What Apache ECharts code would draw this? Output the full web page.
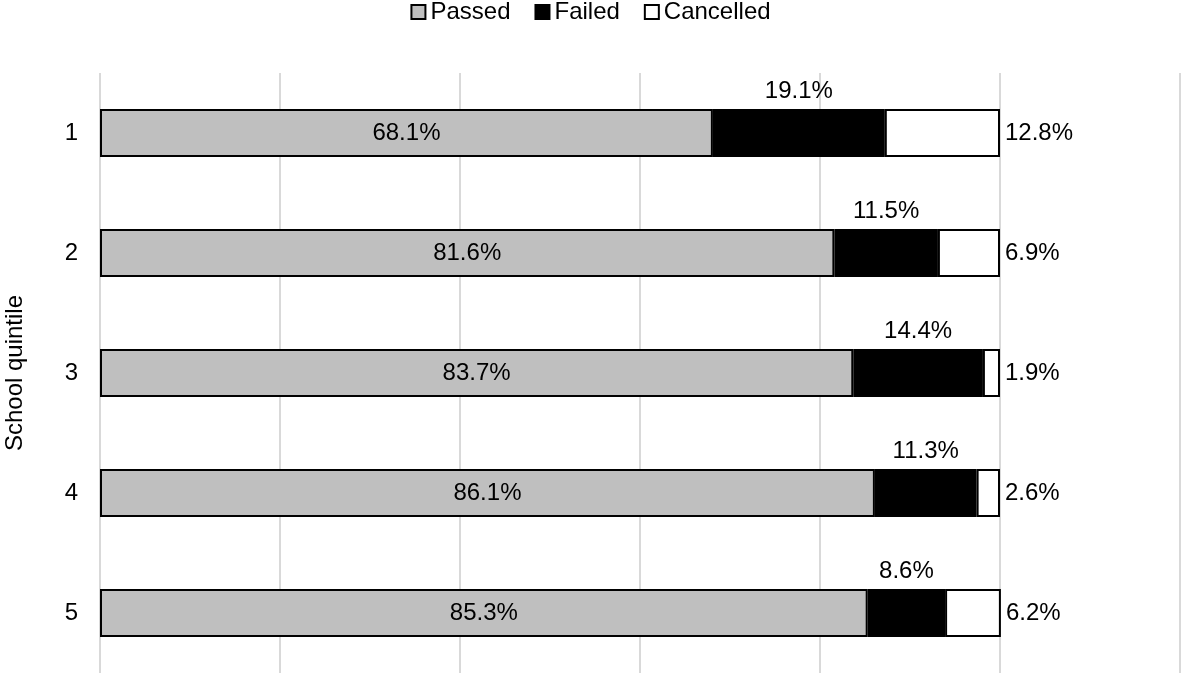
<!DOCTYPE html>
<html><head><meta charset="utf-8">
<script src="https://cdn.jsdelivr.net/npm/echarts@6/dist/echarts.min.js"></script>
<style>html,body{margin:0;padding:0;background:#fff}#c{width:1181px;height:673px}</style>
</head><body><div id="c"></div>
<script>
const categories = ['1', '2', '3', '4', '5'];
const passed = [68.1, 81.6, 83.7, 86.1, 85.3];
const failed = [19.1, 11.5, 14.4, 11.3, 8.6];
const cancelled = [12.8, 6.9, 1.9, 2.6, 6.2];
const xTicks = [0, 20, 40, 60, 80, 100, 120];

const font = 'Liberation Sans, Arial, sans-serif';
const fmt = p => p.value.toFixed(1) + '%';
const chart = echarts.init(document.getElementById('c'));
chart.setOption({
  animation: false,
  textStyle: { fontFamily: font },
  legend: {
    top: -5, left: 'center', icon: 'rect',
    itemWidth: 14, itemHeight: 14, itemGap: 24,
    textStyle: { fontSize: 24, color: '#000', fontFamily: font, padding: [0, 0, 0, 0] },
    data: ['Passed', 'Failed', 'Cancelled']
  },
  grid: { left: 100, right: 1, top: 73, bottom: 0, containLabel: false, outerBoundsMode: 'none' },
  xAxis: {
    type: 'value', min: xTicks[0], max: xTicks[xTicks.length - 1], interval: 20,
    axisLabel: { show: false }, axisLine: { show: false }, axisTick: { show: false },
    splitLine: { show: true, lineStyle: { color: '#d9d9d9', width: 2 } }
  },
  yAxis: {
    type: 'category', data: categories, inverse: true,
    axisLine: { show: false }, axisTick: { show: false },
    axisLabel: { fontSize: 24, color: '#000', margin: 22, fontFamily: font },
    name: 'School quintile', nameLocation: 'middle', nameGap: 73,
    nameTextStyle: { fontSize: 24, color: '#000', fontFamily: font }
  },
  series: [
    { name: 'Passed', type: 'bar', stack: 't', barWidth: 48, data: passed,
      itemStyle: { color: '#bfbfbf', borderColor: '#000', borderWidth: 2 },
      label: { show: true, position: 'inside', color: '#000', fontSize: 24, fontFamily: font, formatter: fmt } },
    { name: 'Failed', type: 'bar', stack: 't', barWidth: 48, data: failed,
      itemStyle: { color: '#000', borderColor: '#000', borderWidth: 2 },
      label: { show: true, position: 'top', distance: 6, color: '#000', fontSize: 24, fontFamily: font, formatter: fmt } },
    { name: 'Cancelled', type: 'bar', stack: 't', barWidth: 48, data: cancelled,
      itemStyle: { color: '#fff', borderColor: '#000', borderWidth: 2 },
      label: { show: true, position: 'right', distance: 5, color: '#000', fontSize: 24, fontFamily: font, formatter: fmt } }
  ]
});
</script></body></html>
